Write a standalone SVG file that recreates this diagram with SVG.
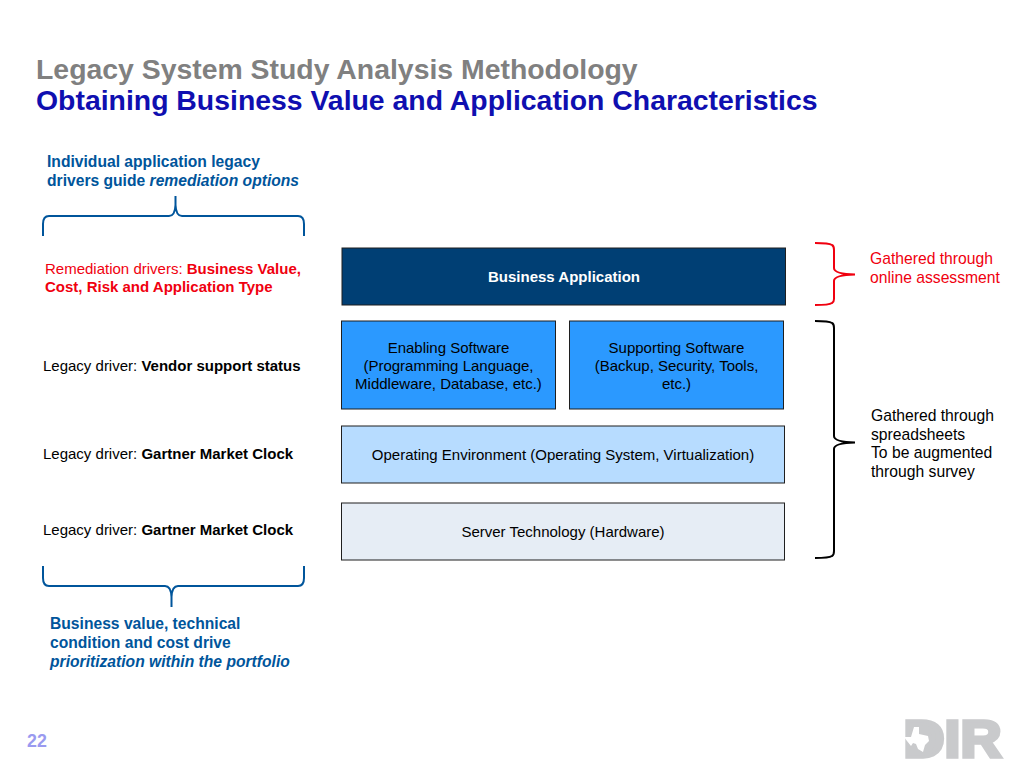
<svg xmlns="http://www.w3.org/2000/svg" width="1024" height="768" viewBox="0 0 1024 768">
<style>
text{font-family:"Liberation Sans",Arial,sans-serif}
.t{font-size:15px;fill:#000}
.n{font-size:15.7px;fill:#000}
.m{text-anchor:middle}
.b{font-weight:bold}
.bl{font-size:15.65px;font-weight:bold;fill:#00559b}
.r{font-size:15px;fill:#f0000f}
.rn{font-size:15.7px;fill:#f0000f}
.box{stroke:#1f1f1f;stroke-width:1}
.br{fill:none;stroke-width:2}
</style>
<rect width="1024" height="768" fill="#fff"/>
<g id="title">
<text x="36" y="79" font-size="28.4" font-weight="bold" fill="#808080">Legacy System Study Analysis Methodology</text>
<text x="36" y="110" font-size="28.4" font-weight="bold" fill="#0f0fb0">Obtaining Business Value and Application Characteristics</text>
</g>
<g id="note-top">
<text class="bl" x="47" y="167">Individual application legacy</text>
<text class="bl" x="47" y="186">drivers guide <tspan font-style="italic">remediation options</tspan></text>
</g>
<g id="node-business-application">
<rect class="box" x="342" y="248" width="443.500" height="57" fill="#003f74"/>
<text class="t m b" x="564" y="282" style="fill:#fff">Business Application</text>
</g>
<g id="node-enabling-software">
<rect class="box" x="341.500" y="321" width="214" height="88" fill="#2b99ff"/>
<text class="t m" x="448.500" y="353">Enabling Software</text>
<text class="t m" x="448.500" y="371">(Programming Language,</text>
<text class="t m" x="448.500" y="389">Middleware, Database, etc.)</text>
</g>
<g id="node-supporting-software">
<rect class="box" x="569.500" y="321" width="214" height="88" fill="#2b99ff"/>
<text class="t m" x="676.500" y="353">Supporting Software</text>
<text class="t m" x="676.500" y="371">(Backup, Security, Tools,</text>
<text class="t m" x="676.500" y="389">etc.)</text>
</g>
<g id="node-operating-environment">
<rect class="box" x="341.500" y="426" width="443" height="57" fill="#b7dcff"/>
<text class="t m" x="563" y="460">Operating Environment (Operating System, Virtualization)</text>
</g>
<g id="node-server-technology">
<rect class="box" x="341.500" y="503" width="443" height="57" fill="#e6edf5"/>
<text class="t m" x="563" y="537">Server Technology (Hardware)</text>
</g>
<g id="drivers">
<text class="r" x="45" y="274">Remediation drivers: <tspan class="b">Business Value,</tspan></text>
<text class="r b" x="45" y="292">Cost, Risk and Application Type</text>
<text class="t" x="43" y="371">Legacy driver: <tspan class="b">Vendor support status</tspan></text>
<text class="t" x="43" y="459">Legacy driver: <tspan class="b">Gartner Market Clock</tspan></text>
<text class="t" x="43" y="535">Legacy driver: <tspan class="b">Gartner Market Clock</tspan></text>
</g>
<g id="connectors">
<path class="br" stroke="#00559b" d="M43 236V224Q43 216 49 216H169Q175 216 175.500 205V196V205Q176 216 182 216H298Q304 216 304 224V236"/>
<path class="br" stroke="#00559b" d="M43 566V578Q43 586 49 586H165Q171 586 171.500 597V607V597Q172 586 178 586H298Q304 586 304 578V566"/>
<path class="br" stroke="#f0000f" d="M815 243Q829 243 832 245Q834 246 834 250V268Q834 274 855 274.500Q834 275 834 281V299Q834 302 832 303Q829 305 815 305"/>
<path class="br" stroke="#000" d="M815 321Q829 321 832 323Q834 324 834 328V436Q834 442 855 442.500Q834 443 834 449V551Q834 555 832 556Q829 558 815 558"/>
</g>
<g id="note-red">
<text class="rn" x="870" y="264">Gathered through</text>
<text class="rn" x="870" y="283">online assessment</text>
</g>
<g id="note-black">
<text class="n" x="871" y="421">Gathered through</text>
<text class="n" x="871" y="440">spreadsheets</text>
<text class="n" x="871" y="458">To be augmented</text>
<text class="n" x="871" y="477">through survey</text>
</g>
<g id="note-bottom">
<text class="bl" x="50" y="629">Business value, technical</text>
<text class="bl" x="50" y="648">condition and cost drive</text>
<text class="bl" x="50" y="667" font-style="italic">prioritization within the portfolio</text>
</g>
<g id="page-number">
<text x="27" y="747" font-size="17.800" font-weight="bold" fill="#9a9af0">22</text>
</g>
<g id="logo">
<rect x="906" y="721" width="26" height="35" fill="#c9cacc"/>
<text x="903.500" y="757" font-size="51" font-weight="bold" fill="#c9cacc" stroke="#c9cacc" stroke-width="3.500" textLength="98" lengthAdjust="spacingAndGlyphs">DIR</text>
<path fill="#fff" d="M914 727h5v7l9 2 1 5-4 4-2 7-5-3-2-5-3-1-2 3-4-5-3-4h7z"/>
</g>
</svg>
